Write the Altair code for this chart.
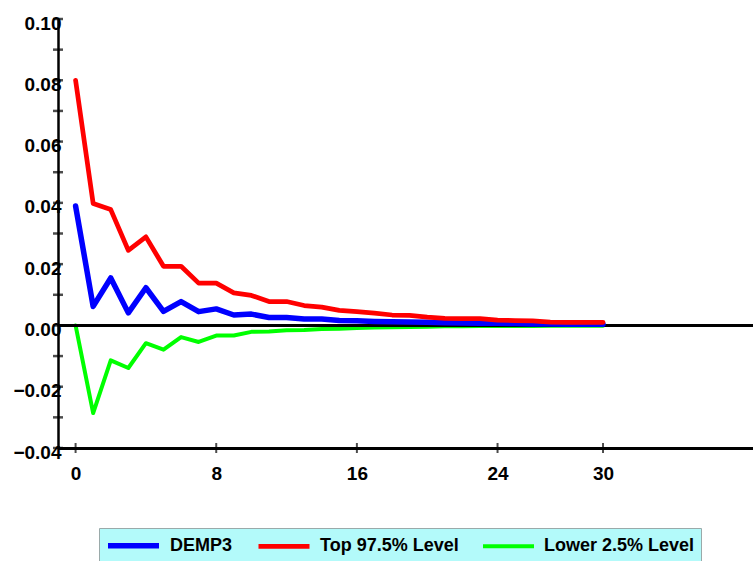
import altair as alt
import pandas as pd

steps = list(range(31))
demp3 = [0.0390, 0.0062, 0.0155, 0.0041, 0.0123, 0.0046, 0.0078, 0.0045, 0.0054, 0.0034,
         0.0037, 0.0026, 0.0026, 0.0021, 0.0021, 0.0016, 0.0015, 0.0013, 0.0012, 0.0011,
         0.0010, 0.0009, 0.0008, 0.0007, 0.0007, 0.0006, 0.0005, 0.0005, 0.0004, 0.0004, 0.0004]
top975 = [0.0800, 0.0398, 0.0378, 0.0245, 0.0289, 0.0193, 0.0193, 0.0138, 0.0138, 0.0106,
          0.0098, 0.0078, 0.0078, 0.0065, 0.0060, 0.0049, 0.0045, 0.0040, 0.0034, 0.0033,
          0.0027, 0.0023, 0.0022, 0.0022, 0.0017, 0.0016, 0.0015, 0.0011, 0.0010, 0.0010, 0.0010]
low025 = [0.0000, -0.0286, -0.0114, -0.0139, -0.0058, -0.0079, -0.0038, -0.0054, -0.0033, -0.0033,
          -0.0021, -0.0020, -0.0016, -0.0015, -0.0012, -0.0011, -0.0008, -0.0007, -0.0006, -0.0005,
          -0.0004, -0.0003, -0.0003, -0.0002, -0.0002, -0.0002, -0.0002, -0.0001, -0.0001, -0.0001, -0.0001]

series_names = ["DEMP3", "Top 97.5% Level", "Lower 2.5% Level"]
series_colors = ["#0000ff", "#ff0000", "#00ff00"]
series_widths = [5.5, 4, 2.5]

x_tick_values = [0, 8, 16, 24, 30]
y_label_values = [-0.04, -0.02, 0.0, 0.02, 0.04, 0.06, 0.08, 0.10]
y_tick_values = [-0.04, -0.03, -0.02, -0.01, 0.0, 0.01, 0.02, 0.03, 0.04, 0.05, 0.06, 0.07, 0.08, 0.09, 0.10]

rows = []
for name, vals in zip(series_names, [demp3, top975, low025]):
    for s, v in zip(steps, vals):
        rows.append({"step": s, "value": v, "series": name})
df = pd.DataFrame(rows)

FONT = "Liberation Sans"
xscale = alt.Scale(domain=[-1, 38.53], nice=False, zero=False)
yscale = alt.Scale(domain=[-0.04, 0.10], nice=False, zero=False)

color = alt.Color("series:N", scale=alt.Scale(domain=series_names, range=series_colors),
                  legend=alt.Legend(title=None))
swidth = alt.StrokeWidth("series:N", scale=alt.Scale(domain=series_names, range=series_widths),
                         legend=alt.Legend(title=None))

xaxis = alt.Axis(values=x_tick_values, ticks=False, grid=False, title=None,
                 domainColor="black", domainWidth=3, labelFont=FONT, labelFontWeight="bold",
                 labelFontSize=19, labelColor="black", labelPadding=16)
yaxis = alt.Axis(values=y_label_values, format=".2f", ticks=False, grid=False, title=None,
                 domainColor="black", domainWidth=2.5, labelFont=FONT, labelFontWeight="bold",
                 labelFontSize=19, labelColor="black", labelPadding=-3, labelOffset=4)

base = alt.Chart(df)

def series_layer(name):
    return base.transform_filter(alt.datum.series == name).mark_line(
        strokeCap="round", strokeJoin="round"
    ).encode(
        x=alt.X("step:Q", scale=xscale, axis=xaxis),
        y=alt.Y("value:Q", scale=yscale, axis=yaxis),
        color=color,
        strokeWidth=swidth,
    )

zero = alt.Chart(pd.DataFrame({"z": [0.0]})).mark_rule(color="black", strokeWidth=3).encode(
    y=alt.Y("z:Q", scale=yscale)
)

yticks = alt.Chart(pd.DataFrame({"t": y_tick_values})).mark_tick(
    orient="horizontal", size=10, thickness=2.5, color="black"
).encode(y=alt.Y("t:Q", scale=yscale), x=alt.datum(-1))

xticks = alt.Chart(pd.DataFrame({"t": x_tick_values})).mark_tick(
    orient="vertical", size=10, thickness=2, color="black"
).encode(x=alt.X("t:Q", scale=xscale), y=alt.datum(-0.04))

chart = alt.layer(
    series_layer("Lower 2.5% Level"),
    zero,
    series_layer("DEMP3"),
    series_layer("Top 97.5% Level"),
    yticks,
    xticks,
).properties(
    width=695, height=429,
    autosize=alt.AutoSizeParams(type="none"),
    padding={"left": 58, "top": 19, "right": 0, "bottom": 113},
).configure_view(stroke=None).configure_legend(
    orient="none", legendX=41, legendY=509, direction="horizontal",
    fillColor="#b3fafa", strokeColor="#9aaaaa", padding=6,
    labelFont=FONT, labelFontWeight="bold", labelFontSize=18, labelColor="black",
    symbolType="M-1,0H5", symbolSize=289, labelOffset=42, columnPadding=16,
)

chart.save("out.html", embed_options={"renderer": "svg", "actions": False})
